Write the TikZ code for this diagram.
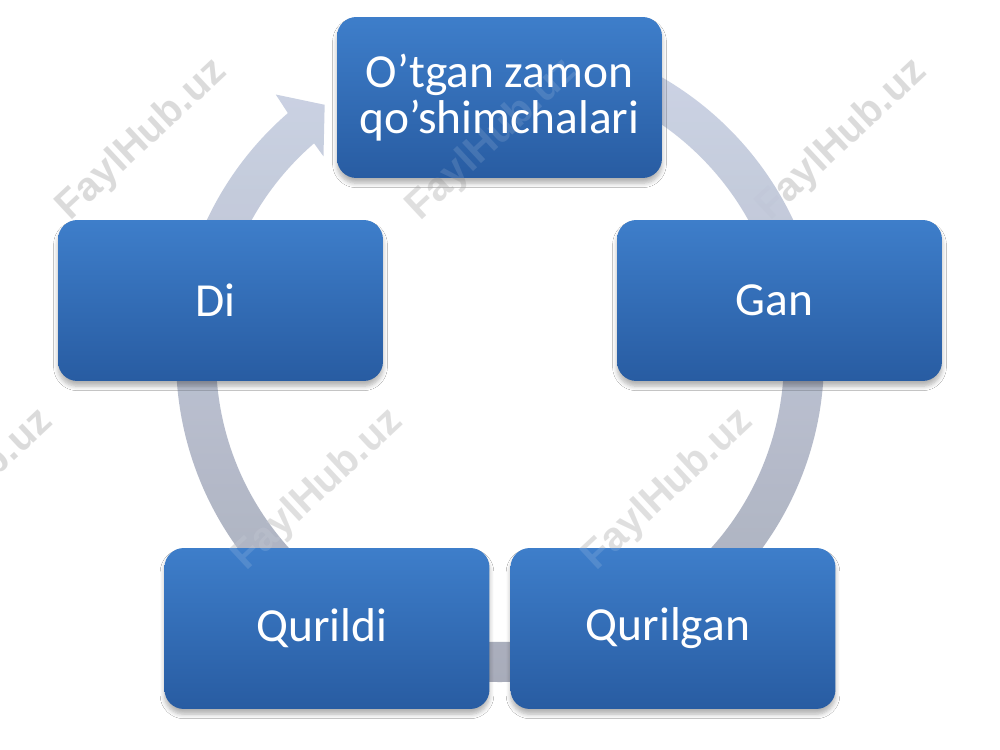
\documentclass[tikz,border=0pt]{standalone}
\usepackage{fontspec}
\setmainfont{Carlito}
\newfontfamily\wmfont{Liberation Sans}
\usetikzlibrary{calc,shadows.blur}
\definecolor{boxtop}{RGB}{62,126,202}
\definecolor{boxbot}{RGB}{40,92,162}
\definecolor{ringtop}{RGB}{203,211,230}
\definecolor{ringbot}{RGB}{160,165,180}
\definecolor{wm}{RGB}{185,185,185}
\newcommand{\leftnudge}{\hspace*{0.2cm}}
\tikzset{
  cyclebox/.style={rectangle, rounded corners=11pt, minimum width=6.5cm, minimum height=3.22cm,
    top color=boxtop, bottom color=boxbot, draw=none, text=white, align=center,
    font=\fontsize{27}{26.5}\selectfont,
    blur shadow={shadow blur steps=6, shadow xshift=0pt, shadow yshift=-3pt, shadow opacity=30, shadow blur radius=2.5pt}},
  watermark/.style={rotate=43, text=wm, opacity=0.5, font=\wmfont\bfseries\fontsize{23}{23}\selectfont, inner sep=0pt},
  watermarkover/.style={watermark, text=white, opacity=0.12}
}
\begin{document}
\begin{tikzpicture}[x=0.02cm,y=0.02cm]
\useasboundingbox (0,0) rectangle (1000,750);
\fill[white] (0,0) rectangle (1000,750);
\coordinate (c) at (500,392);
% watermarks (on the background)
\node[watermark] (w1) at (142,610) {FaylHub.uz};
\node[watermark] (w2) at (492,610) {FaylHub.uz};
\node[watermark] (w3) at (842,610) {FaylHub.uz};
\node[watermark] (w4) at (-32,260) {FaylHub.uz};
\node[watermark] (w5) at (318,260) {FaylHub.uz};
\node[watermark] (w6) at (668,260) {FaylHub.uz};
% circular arrow ring
\path[top color=ringtop, bottom color=ringbot, opacity=0.92]
  (c) ++(95:324) arc[start angle=95, end angle=-229.1, radius=324]
  -- ($(c)+(130.4:346)$) -- ($(c)+(124.7:308)$) -- ($(c)+(131.2:268)$)
  -- ($(c)+(130.9:284)$) arc[start angle=-229.1, end angle=95, radius=284] -- cycle;
% boxes
\node[cyclebox] (top) at (499.5,652.5) {O’tgan zamon\\qo’shimchalari};
\node[cyclebox] (gan) at (779.5,449.5) {Gan\leftnudge};
\node[cyclebox] (di) at (220.5,449.5) {Di\leftnudge};
\node[cyclebox] (qurilgan) at (673,121.5) {Qurilgan\leftnudge};
\node[cyclebox] (qurildi) at (327,121.5) {Qurildi\leftnudge};
% watermarks faintly over the boxes
\node[watermarkover] (v1) at (492,610) {FaylHub.uz};
\node[watermarkover] (v2) at (318,260) {FaylHub.uz};
\node[watermarkover] (v3) at (668,260) {FaylHub.uz};
\end{tikzpicture}
\end{document}
